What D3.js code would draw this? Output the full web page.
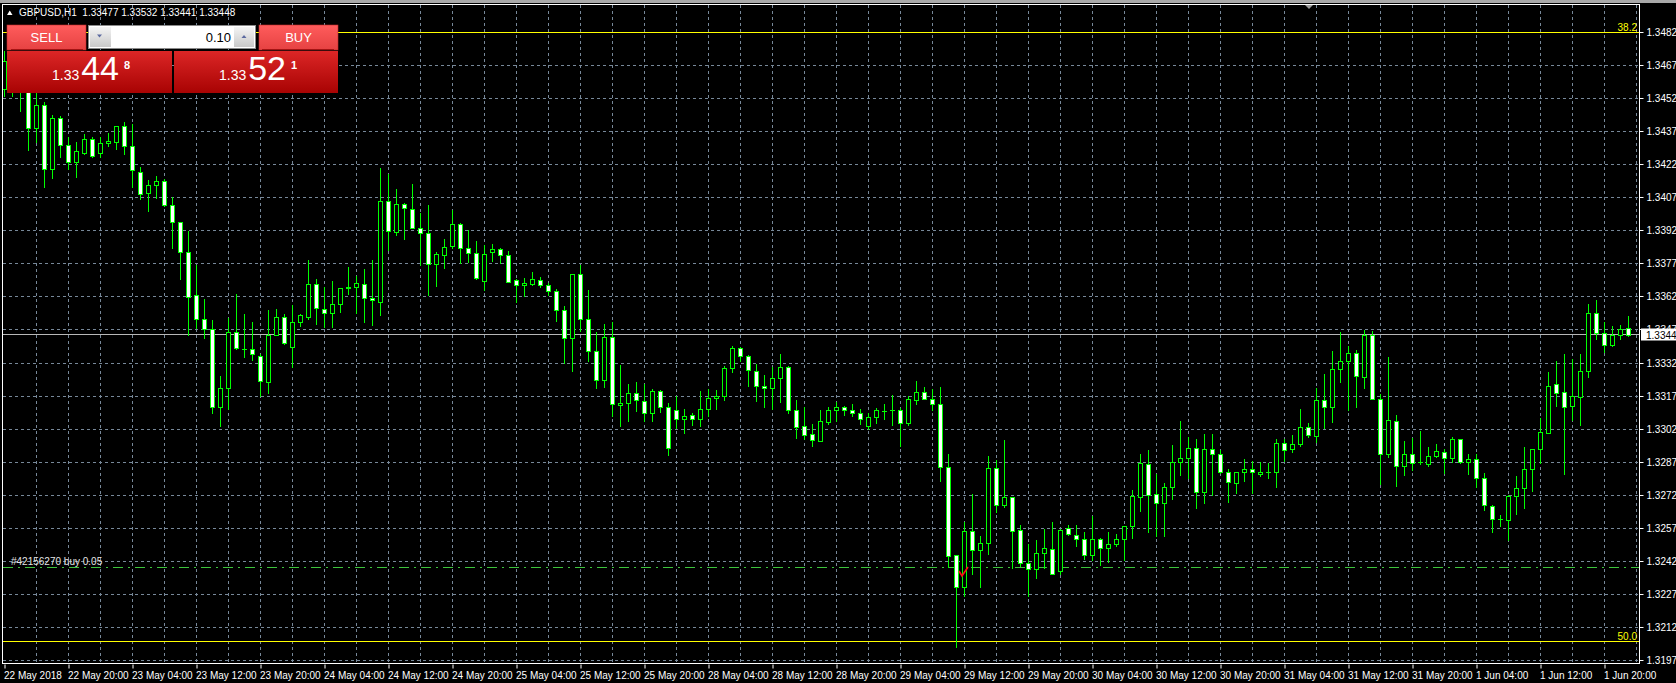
<!DOCTYPE html>
<html>
<head>
<meta charset="utf-8">
<script src="https://cdn.jsdelivr.net/npm/d3@7"></script>
<style>
  html, body { margin: 0; padding: 0; background: #000; overflow: hidden; }
  svg { display: block; font-family: "Liberation Sans", Arial, sans-serif; }
</style>
</head>
<body>
<div id="wrapper"></div>
<script>
/*global d3*/

// GBPUSD H1, 204 bars from 22 May 12:00 to 1 Jun 23:00
const opens = [
  1.34565, 1.34692, 1.34593, 1.34552, 1.34388, 1.34491, 1.34200, 1.34432, 1.34309, 1.34234,
  1.34275, 1.34336, 1.34275, 1.34317, 1.34322, 1.34395, 1.34304, 1.34189, 1.34090, 1.34127,
  1.34148, 1.34036, 1.33961, 1.33822, 1.33627, 1.33518, 1.33473, 1.33119, 1.33205, 1.33461,
  1.33385, 1.33385, 1.33354, 1.33234, 1.33448, 1.33530, 1.33395, 1.33508, 1.33531, 1.33680,
  1.33567, 1.33546, 1.33586, 1.33659, 1.33666, 1.33680, 1.33614, 1.33598, 1.34054, 1.33916,
  1.34041, 1.34020, 1.33935, 1.33908, 1.33768, 1.33809, 1.33849, 1.33950, 1.33840, 1.33818,
  1.33690, 1.33822, 1.33836, 1.33809, 1.33695, 1.33672, 1.33680, 1.33698, 1.33676, 1.33645,
  1.33562, 1.33435, 1.33723, 1.33521, 1.33375, 1.33244, 1.33440, 1.33129, 1.33140, 1.33185,
  1.33148, 1.33091, 1.33195, 1.33119, 1.33108, 1.33068, 1.33086, 1.33064, 1.33111, 1.33163,
  1.33172, 1.33296, 1.33387, 1.33354, 1.33286, 1.33218, 1.33208, 1.33254, 1.33304, 1.33109,
  1.33036, 1.32999, 1.32968, 1.33051, 1.33106, 1.33119, 1.33109, 1.33091, 1.33036, 1.33073,
  1.33103, 1.33108, 1.33109, 1.33047, 1.33153, 1.33190, 1.33159, 1.33132, 1.32849, 1.32448,
  1.32302, 1.32559, 1.32473, 1.32504, 1.32845, 1.32677, 1.32710, 1.32564, 1.32414, 1.32387,
  1.32458, 1.32476, 1.32377, 1.32572, 1.32539, 1.32523, 1.32450, 1.32523, 1.32482, 1.32499,
  1.32523, 1.32581, 1.32713, 1.32862, 1.32726, 1.32685, 1.32757, 1.32872, 1.32888, 1.32935,
  1.32734, 1.32930, 1.32905, 1.32827, 1.32776, 1.32827, 1.32840, 1.32818, 1.32827, 1.32827,
  1.32958, 1.32929, 1.32952, 1.33031, 1.32991, 1.33150, 1.33119, 1.33294, 1.33327, 1.33367,
  1.33257, 1.33445, 1.33159, 1.32909, 1.33059, 1.32853, 1.32909, 1.32870, 1.32861, 1.32900,
  1.32916, 1.32890, 1.32973, 1.32870, 1.32885, 1.32796, 1.32672, 1.32612, 1.32608, 1.32718,
  1.32755, 1.32840, 1.32932, 1.33002, 1.33223, 1.33189, 1.33124, 1.33166, 1.33286, 1.33549,
  1.33457, 1.33400, 1.33445, 1.33477
]
const highs = [
  1.34737, 1.34731, 1.34666, 1.34617, 1.34569, 1.34504, 1.34445, 1.34442, 1.34345, 1.34322,
  1.34361, 1.34346, 1.34345, 1.34366, 1.34395, 1.34414, 1.34405, 1.34208, 1.34150, 1.34168,
  1.34156, 1.34072, 1.33961, 1.33918, 1.33765, 1.33611, 1.33513, 1.33263, 1.33526, 1.33635,
  1.33544, 1.33508, 1.33362, 1.33562, 1.33567, 1.33543, 1.33582, 1.33544, 1.33786, 1.33700,
  1.33663, 1.33692, 1.33659, 1.33755, 1.33716, 1.33745, 1.33786, 1.34203, 1.34176, 1.34111,
  1.34047, 1.34132, 1.34000, 1.34038, 1.33823, 1.33883, 1.34013, 1.33955, 1.33922, 1.33872,
  1.33856, 1.33861, 1.33841, 1.33827, 1.33703, 1.33705, 1.33733, 1.33711, 1.33684, 1.33655,
  1.33578, 1.33723, 1.33765, 1.33651, 1.33460, 1.33496, 1.33504, 1.33310, 1.33224, 1.33232,
  1.33226, 1.33202, 1.33198, 1.33137, 1.33171, 1.33111, 1.33095, 1.33192, 1.33202, 1.33197,
  1.33307, 1.33396, 1.33392, 1.33358, 1.33314, 1.33265, 1.33302, 1.33359, 1.33307, 1.33151,
  1.33119, 1.33042, 1.33106, 1.33119, 1.33145, 1.33124, 1.33135, 1.33112, 1.33091, 1.33114,
  1.33132, 1.33177, 1.33116, 1.33169, 1.33237, 1.33213, 1.33202, 1.33213, 1.32905, 1.32448,
  1.32599, 1.32726, 1.32533, 1.32900, 1.32880, 1.32970, 1.32713, 1.32586, 1.32499, 1.32518,
  1.32568, 1.32599, 1.32568, 1.32583, 1.32586, 1.32552, 1.32625, 1.32526, 1.32552, 1.32542,
  1.32581, 1.32742, 1.32909, 1.32924, 1.32818, 1.32775, 1.32950, 1.33055, 1.32986, 1.32973,
  1.32999, 1.32999, 1.32926, 1.32840, 1.32827, 1.32883, 1.32877, 1.32872, 1.32867, 1.32973,
  1.32977, 1.32995, 1.33111, 1.33046, 1.33205, 1.33270, 1.33374, 1.33460, 1.33396, 1.33379,
  1.33470, 1.33465, 1.33181, 1.33346, 1.33083, 1.32965, 1.32981, 1.33010, 1.32937, 1.32952,
  1.32932, 1.32986, 1.32977, 1.32905, 1.32908, 1.32823, 1.32676, 1.32629, 1.32721, 1.32806,
  1.32937, 1.32932, 1.33072, 1.33278, 1.33327, 1.33359, 1.33338, 1.33359, 1.33586, 1.33606,
  1.33505, 1.33487, 1.33492, 1.33532
]
const lows = [
  1.34533, 1.34533, 1.34466, 1.34289, 1.34325, 1.34120, 1.34159, 1.34257, 1.34202, 1.34166,
  1.34270, 1.34255, 1.34257, 1.34307, 1.34293, 1.34270, 1.34117, 1.34065, 1.34012, 1.34068,
  1.34033, 1.33843, 1.33703, 1.33448, 1.33481, 1.33435, 1.33091, 1.33034, 1.33111, 1.33383,
  1.33348, 1.33335, 1.33172, 1.33184, 1.33445, 1.33408, 1.33302, 1.33489, 1.33521, 1.33499,
  1.33482, 1.33484, 1.33552, 1.33633, 1.33546, 1.33508, 1.33494, 1.33538, 1.33835, 1.33900,
  1.33885, 1.33932, 1.33763, 1.33630, 1.33671, 1.33749, 1.33844, 1.33773, 1.33778, 1.33703,
  1.33653, 1.33783, 1.33776, 1.33687, 1.33598, 1.33625, 1.33674, 1.33663, 1.33627, 1.33512,
  1.33318, 1.33283, 1.33465, 1.33330, 1.33205, 1.33213, 1.33078, 1.33034, 1.33057, 1.33104,
  1.33057, 1.33059, 1.33098, 1.32901, 1.33025, 1.33002, 1.33039, 1.33034, 1.33080, 1.33112,
  1.33153, 1.33280, 1.33327, 1.33216, 1.33148, 1.33121, 1.33111, 1.33145, 1.33093, 1.32981,
  1.32973, 1.32944, 1.32968, 1.33042, 1.33055, 1.33085, 1.33078, 1.33044, 1.33020, 1.33047,
  1.33068, 1.33039, 1.32945, 1.33038, 1.33132, 1.33155, 1.33108, 1.32786, 1.32393, 1.32033,
  1.32263, 1.32361, 1.32302, 1.32455, 1.32645, 1.32666, 1.32388, 1.32398, 1.32263, 1.32344,
  1.32388, 1.32362, 1.32364, 1.32539, 1.32491, 1.32431, 1.32426, 1.32403, 1.32417, 1.32491,
  1.32426, 1.32528, 1.32648, 1.32552, 1.32536, 1.32536, 1.32702, 1.32812, 1.32799, 1.32661,
  1.32685, 1.32721, 1.32823, 1.32689, 1.32729, 1.32783, 1.32729, 1.32807, 1.32796, 1.32757,
  1.32877, 1.32916, 1.32942, 1.32986, 1.32961, 1.33023, 1.33051, 1.33234, 1.33108, 1.33121,
  1.33208, 1.33156, 1.32770, 1.32893, 1.32762, 1.32812, 1.32836, 1.32864, 1.32853, 1.32893,
  1.32823, 1.32869, 1.32867, 1.32815, 1.32758, 1.32653, 1.32552, 1.32580, 1.32518, 1.32637,
  1.32664, 1.32739, 1.32867, 1.33002, 1.33124, 1.32815, 1.33062, 1.33039, 1.33257, 1.33427,
  1.33371, 1.33396, 1.33427, 1.33441
]
const closes = [
  1.34692, 1.34585, 1.34552, 1.34387, 1.34491, 1.34200, 1.34432, 1.34309, 1.34234, 1.34281,
  1.34336, 1.34258, 1.34317, 1.34327, 1.34395, 1.34304, 1.34195, 1.34085, 1.34127, 1.34145,
  1.34036, 1.33958, 1.33822, 1.33620, 1.33518, 1.33473, 1.33119, 1.33205, 1.33461, 1.33387,
  1.33383, 1.33359, 1.33237, 1.33448, 1.33530, 1.33413, 1.33508, 1.33536, 1.33680, 1.33568,
  1.33546, 1.33586, 1.33659, 1.33667, 1.33685, 1.33617, 1.33604, 1.34054, 1.33919, 1.34041,
  1.34025, 1.33935, 1.33909, 1.33768, 1.33814, 1.33846, 1.33950, 1.33844, 1.33818, 1.33708,
  1.33814, 1.33836, 1.33809, 1.33689, 1.33672, 1.33682, 1.33703, 1.33672, 1.33645, 1.33562,
  1.33435, 1.33723, 1.33521, 1.33375, 1.33241, 1.33440, 1.33132, 1.33140, 1.33185, 1.33151,
  1.33091, 1.33195, 1.33122, 1.32934, 1.33068, 1.33081, 1.33064, 1.33111, 1.33163, 1.33172,
  1.33296, 1.33387, 1.33354, 1.33289, 1.33218, 1.33208, 1.33254, 1.33304, 1.33109, 1.33031,
  1.32995, 1.32970, 1.33059, 1.33106, 1.33119, 1.33109, 1.33091, 1.33068, 1.33073, 1.33108,
  1.33103, 1.33108, 1.33049, 1.33158, 1.33190, 1.33159, 1.33132, 1.32849, 1.32442, 1.32304,
  1.32559, 1.32473, 1.32504, 1.32845, 1.32676, 1.32710, 1.32559, 1.32414, 1.32387, 1.32458,
  1.32481, 1.32364, 1.32564, 1.32542, 1.32523, 1.32450, 1.32523, 1.32482, 1.32499, 1.32523,
  1.32581, 1.32718, 1.32867, 1.32723, 1.32685, 1.32757, 1.32872, 1.32888, 1.32935, 1.32734,
  1.32930, 1.32905, 1.32827, 1.32781, 1.32827, 1.32840, 1.32827, 1.32827, 1.32827, 1.32958,
  1.32924, 1.32952, 1.33031, 1.32992, 1.33150, 1.33119, 1.33293, 1.33327, 1.33367, 1.33262,
  1.33445, 1.33159, 1.32909, 1.33060, 1.32853, 1.32909, 1.32867, 1.32870, 1.32900, 1.32921,
  1.32890, 1.32977, 1.32870, 1.32885, 1.32796, 1.32677, 1.32612, 1.32612, 1.32718, 1.32755,
  1.32840, 1.32932, 1.33008, 1.33218, 1.33185, 1.33121, 1.33172, 1.33286, 1.33549, 1.33457,
  1.33400, 1.33445, 1.33473, 1.33448
]

// one label every 8 bars
const timeLabels = [
  "22 May 2018", "22 May 20:00", "23 May 04:00", "23 May 12:00", "23 May 20:00",
  "24 May 04:00", "24 May 12:00", "24 May 20:00", "25 May 04:00", "25 May 12:00",
  "25 May 20:00", "28 May 04:00", "28 May 12:00", "28 May 20:00", "29 May 04:00",
  "29 May 12:00", "29 May 20:00", "30 May 04:00", "30 May 12:00", "30 May 20:00",
  "31 May 04:00", "31 May 12:00", "31 May 20:00", "1 Jun 04:00", "1 Jun 12:00",
  "1 Jun 20:00"
]
const priceTicks = [
  1.31970, 1.32120, 1.32270, 1.32420, 1.32570, 1.32720, 1.32870, 1.33020, 1.33170, 1.33320,
  1.33470, 1.33620, 1.33770, 1.33920, 1.34070, 1.34220, 1.34370, 1.34520, 1.34670, 1.34820
]
const fibNames = ["38.2", "50.0"]
const fibPrices = [1.34818, 1.32058]
const orderText = "#42156270 buy 0.05"
const orderPrice = 1.32392
const bidPrice = 1.33448
const askPrice = 1.33521
const lotSize = "0.10"

function drawChart() {

    // 1. data
    const bars = d3.range(opens.length).map(i => ({
        i, o: opens[i], h: highs[i], l: lows[i], c: closes[i]
    }))

    // 2. dims
    let dims = {
        width: 1676,
        height: 683,
        left: 3,
        right: 1639,
        top: 5,
        bottom: 664,
    }

    const wrapper = d3.select("#wrapper")
        .append("svg")
        .attr("width", dims.width)
        .attr("height", dims.height)
        .style("background", "#000")

    const defs = wrapper.append("defs")
    const grad = (id, a, b) => {
        const g = defs.append("linearGradient").attr("id", id)
            .attr("x1", 0).attr("y1", 0).attr("x2", 0).attr("y2", 1)
        g.append("stop").attr("offset", "0%").attr("stop-color", a)
        g.append("stop").attr("offset", "100%").attr("stop-color", b)
    }
    grad("btnGrad", "#ff5c5c", "#e64242")
    grad("priceGrad", "#dc2626", "#a80303")
    grad("spinGrad", "#f4f4f4", "#c9c9c9")

    // 3. scales
    const xScale = d3.scaleLinear()
        .domain([0, bars.length - 1])
        .range([4.5, 4.5 + 8 * (bars.length - 1)])

    const yScale = d3.scaleLinear()
        .domain([1.31970, 1.34820])
        .range([660.5, 32.5])

    const py = p => Math.round(yScale(p) - 0.5) + 0.5

    // 4. window strip, grid
    wrapper.append("rect")
        .attr("x", 0).attr("y", 0)
        .attr("width", dims.width).attr("height", 3)
        .attr("fill", "#a8a8a8")

    const grid = wrapper.append("g")
        .attr("stroke", "#778899")
        .attr("stroke-width", 1)
        .attr("stroke-dasharray", "3,3")

    grid.selectAll("line.h")
        .data(priceTicks)
        .join("line")
        .attr("x1", dims.left).attr("x2", dims.right)
        .attr("y1", d => py(d)).attr("y2", d => py(d))

    grid.selectAll("line.v")
        .data(d3.range(4, bars.length + 1, 4))
        .join("line")
        .attr("x1", d => xScale(d)).attr("x2", d => xScale(d))
        .attr("y1", dims.top).attr("y2", dims.bottom)

    // fibo levels
    const fib = wrapper.append("g")
    fib.selectAll("line")
        .data(fibPrices)
        .join("line")
        .attr("x1", dims.left).attr("x2", dims.right)
        .attr("y1", d => py(d)).attr("y2", d => py(d))
        .attr("stroke", "#ffff00")
    fib.selectAll("text")
        .data(fibPrices)
        .join("text")
        .attr("x", dims.right - 2)
        .attr("y", d => py(d) - 2)
        .attr("text-anchor", "end")
        .attr("fill", "#ffff00")
        .style("font-size", "10px")
        .text((d, i) => fibNames[i])

    // order line
    wrapper.append("line")
        .attr("x1", dims.left).attr("x2", dims.right)
        .attr("y1", py(orderPrice)).attr("y2", py(orderPrice))
        .attr("stroke", "#3cc43c")
        .attr("stroke-dasharray", "10,5,2,5")
    wrapper.append("text")
        .attr("x", 11)
        .attr("y", py(orderPrice) - 3)
        .attr("fill", "#e4e4e4")
        .style("font-size", "10px")
        .text(orderText)

    // bid line
    wrapper.append("line")
        .attr("x1", dims.left).attr("x2", dims.right)
        .attr("y1", py(bidPrice)).attr("y2", py(bidPrice))
        .attr("stroke", "#b8b8b8")

    // 5. candles
    const candles = wrapper.append("g")
        .selectAll("g")
        .data(bars)
        .join("g")

    candles.append("line")
        .attr("x1", d => xScale(d.i)).attr("x2", d => xScale(d.i))
        .attr("y1", d => Math.round(yScale(d.h)))
        .attr("y2", d => Math.round(yScale(d.l)) + 1)
        .attr("stroke", "#00ff00")

    candles.each(function (d) {
        const g = d3.select(this)
        const cx = xScale(d.i)
        const top = Math.round(yScale(Math.max(d.o, d.c)))
        const bot = Math.round(yScale(Math.min(d.o, d.c)))
        if (bot - top < 1) {
            g.append("line")
                .attr("x1", cx - 2.5).attr("x2", cx + 2.5)
                .attr("y1", top + 0.5).attr("y2", top + 0.5)
                .attr("stroke", "#00ff00")
        } else {
            g.append("rect")
                .attr("x", cx - 2).attr("width", 4)
                .attr("y", top + 0.5).attr("height", bot - top)
                .attr("fill", d.c > d.o ? "#000" : "#fff")
                .attr("stroke", "#00ff00")
        }
    })

    // trade arrow
    wrapper.append("path")
        .attr("d", "M959,571 L962,576 L968,567")
        .attr("fill", "none")
        .attr("stroke", "#ff1010")
        .attr("stroke-width", 1.6)

    // 6. frame and axes
    wrapper.append("rect")
        .attr("x", dims.left - 0.5).attr("y", dims.top - 0.5)
        .attr("width", dims.right - dims.left + 1)
        .attr("height", dims.bottom - dims.top)
        .attr("fill", "none")
        .attr("stroke", "#fff")

    const yAxisGenerator = d3.axisRight()
        .scale(yScale)
        .tickValues(priceTicks)
        .tickFormat(d3.format(".5f"))
        .tickSize(4)
        .tickPadding(3)

    const yAxis = wrapper.append("g")
        .attr("transform", `translate(${dims.right + 0.5}, 0)`)
        .call(yAxisGenerator)
    yAxis.select(".domain").remove()
    yAxis.selectAll(".tick").attr("transform", d => `translate(0,${py(d)})`)
    yAxis.selectAll("line").attr("stroke", "#fff")
    yAxis.selectAll("text")
        .attr("fill", "#fff")
        .style("font-size", "10px")
        .style("font-family", "Liberation Sans")

    const xAxisGenerator = d3.axisBottom()
        .scale(xScale)
        .tickValues(d3.range(0, bars.length, 8))
        .tickFormat((d, i) => timeLabels[i])
        .tickSize(4)
        .tickPadding(3)

    const xAxis = wrapper.append("g")
        .attr("transform", `translate(0, ${dims.bottom + 0.5})`)
        .call(xAxisGenerator)
    xAxis.select(".domain").remove()
    xAxis.selectAll("line").attr("stroke", "#fff")
    xAxis.selectAll("text")
        .attr("fill", "#fff")
        .attr("text-anchor", "start")
        .attr("x", -1)
        .style("font-size", "10px")
        .style("font-family", "Liberation Sans")

    // current price label
    const bidY = py(bidPrice)
    wrapper.append("rect")
        .attr("x", dims.right + 2).attr("y", bidY - 6)
        .attr("width", 40).attr("height", 12)
        .attr("fill", "#fff")
    wrapper.append("text")
        .attr("x", dims.right + 7).attr("y", bidY + 4)
        .attr("fill", "#000")
        .style("font-size", "10px")
        .text(d3.format(".5f")(bidPrice))

    // shift marker
    wrapper.append("path")
        .attr("d", "M1305,5 L1313,5 L1309,9 Z")
        .attr("fill", "#9a9a9a")

    // 7. header
    const last = bars[bars.length - 1]
    const f5 = d3.format(".5f")
    wrapper.append("path")
        .attr("d", "M7,15 L12.5,15 L9.75,10.5 Z")
        .attr("fill", "#fff")
    wrapper.append("text")
        .attr("x", 19).attr("y", 16)
        .attr("fill", "#fff")
        .style("font-size", "10px")
        .style("white-space", "pre")
        .text(`GBPUSD,H1  ${f5(last.o)} ${f5(last.h)} ${f5(last.l)} ${f5(last.c)}`)

    // 8. one click trading panel
    const panel = wrapper.append("g")

    panel.append("rect")
        .attr("x", 7).attr("y", 25).attr("width", 79).attr("height", 25)
        .attr("fill", "url(#btnGrad)").attr("stroke", "#c02a2a").attr("stroke-width", 0.6)
    panel.append("rect")
        .attr("x", 259).attr("y", 25).attr("width", 79).attr("height", 25)
        .attr("fill", "url(#btnGrad)").attr("stroke", "#c02a2a").attr("stroke-width", 0.6)
    panel.append("line")
        .attr("x1", 11).attr("x2", 83).attr("y1", 49.5).attr("y2", 49.5)
        .attr("stroke", "#a31414")
    panel.append("line")
        .attr("x1", 262).attr("x2", 334).attr("y1", 49.5).attr("y2", 49.5)
        .attr("stroke", "#a31414")

    panel.selectAll("text.btn")
        .data([["SELL", 46.5], ["BUY", 298.5]])
        .join("text")
        .attr("x", d => d[0] === "SELL" ? 46.5 : 298.5)
        .attr("y", 42)
        .attr("text-anchor", "middle")
        .attr("fill", "#fff")
        .style("font-size", "13px")
        .text(d => d[0])

    // lot field
    panel.append("rect")
        .attr("x", 88.5).attr("y", 25.5).attr("width", 167).attr("height", 23)
        .attr("fill", "#fff").attr("stroke", "#8a8a8a")
    panel.append("rect")
        .attr("x", 90).attr("y", 27).attr("width", 21).attr("height", 20)
        .attr("fill", "url(#spinGrad)")
    panel.append("rect")
        .attr("x", 234).attr("y", 27).attr("width", 20).attr("height", 20)
        .attr("fill", "url(#spinGrad)")
    panel.append("path")
        .attr("d", "M97,34.5 L102,34.5 L99.5,37.5 Z")
        .attr("fill", "#5c6aa0")
    panel.append("path")
        .attr("d", "M241.5,38 L246.5,38 L244,35 Z")
        .attr("fill", "#5c6aa0")
    panel.append("text")
        .attr("x", 231).attr("y", 42)
        .attr("text-anchor", "end")
        .attr("fill", "#000")
        .style("font-size", "13px")
        .text(lotSize)

    // big price boxes
    const boxes = [
        { x: 7, w: 165, price: bidPrice },
        { x: 174, w: 164, price: askPrice },
    ]
    boxes.forEach(b => {
        panel.append("rect")
            .attr("x", b.x).attr("y", 51).attr("width", b.w).attr("height", 42)
            .attr("fill", "url(#priceGrad)")
        const s = f5(b.price)
        const g = panel.append("text")
            .attr("y", 80)
            .attr("x", b.x + 45)
            .attr("fill", "#fff")
        g.append("tspan").style("font-size", "14px").text(s.slice(0, 4) + " ")
        g.append("tspan").style("font-size", "34px").attr("dx", -2).text(s.slice(4, 6))
        g.append("tspan").style("font-size", "11px").style("font-weight", "bold")
            .attr("dx", 5).attr("dy", -11).text(s.slice(6))
    })
}

drawChart()
</script>
</body>
</html>
